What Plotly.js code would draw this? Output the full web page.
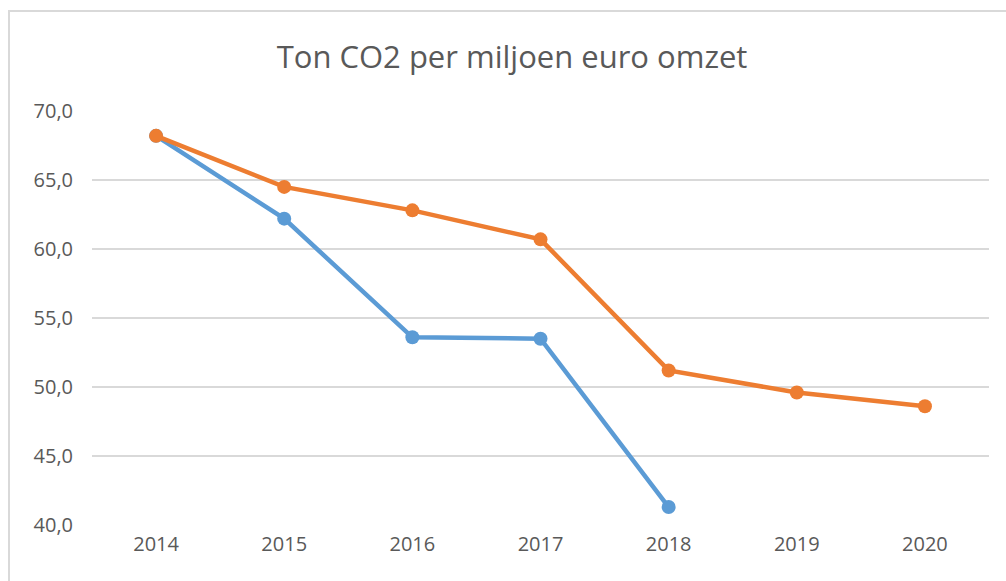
<!DOCTYPE html>
<html>
<head>
<meta charset="utf-8">
<script src="https://cdn.plot.ly/plotly-3.0.1.min.js"></script>
<style>
  html, body { margin: 0; padding: 0; background: #fff; overflow: hidden; }
  #frame { position: absolute; left: 8px; top: 10px; width: 1100px; height: 700px; border: 2px solid #d9d9d9; box-sizing: border-box; }
  #chart { position: absolute; left: 0; top: 0; width: 1006px; height: 581px; }
</style>
</head>
<body>
<div id="frame"></div>
<div id="chart"></div>
<script>
const years = ['2014', '2015', '2016', '2017', '2018', '2019', '2020'];
const actual = [68.2, 62.2, 53.6, 53.5, 41.3, null, null];
const target = [68.2, 64.5, 62.8, 60.7, 51.2, 49.6, 48.6];
const yTicks = [40, 45, 50, 55, 60, 65, 70];
const yTickLabels = ['40,0', '45,0', '50,0', '55,0', '60,0', '65,0', '70,0'];

const traces = [
  {
    x: years, y: actual, type: 'scatter', mode: 'lines+markers', name: 'Actual',
    line: { color: '#5B9BD5', width: 4.5 },
    marker: { color: '#5B9BD5', size: 14 },
    connectgaps: false
  },
  {
    x: years, y: target, type: 'scatter', mode: 'lines+markers', name: 'Doel',
    line: { color: '#ED7D31', width: 4.5 },
    marker: { color: '#ED7D31', size: 14 }
  }
];

const layout = {
  width: 1006, height: 581,
  paper_bgcolor: 'rgba(0,0,0,0)', plot_bgcolor: 'rgba(0,0,0,0)',
  margin: { l: 92, r: 17, t: 111, b: 56 },
  showlegend: false,
  font: { family: 'Open Sans, Noto Sans, sans-serif', color: '#595959' },
  title: {
    text: 'Ton CO2 per miljoen euro omzet',
    font: { size: 31, color: '#595959', family: 'Open Sans, Noto Sans, sans-serif' },
    x: 0.509, xref: 'container', xanchor: 'center',
    y: 0.902, yref: 'container', yanchor: 'middle'
  },
  xaxis: {
    type: 'category', range: [-0.5, 6.5],
    showgrid: false, zeroline: false, showline: false,
    ticks: '', tickfont: { size: 20, color: '#595959' }, ticklabelstandoff: 5
  },
  yaxis: {
    range: [40, 70], tickvals: yTicks, ticktext: yTickLabels,
    showgrid: true, gridcolor: '#d9d9d9', gridwidth: 1.5,
    zeroline: false, showline: false, ticks: '',
    tickfont: { size: 20, color: '#595959' }, ticklabelstandoff: 18
  }
};

Plotly.newPlot('chart', traces, layout, { displayModeBar: false, staticPlot: true });
</script>
</body>
</html>
